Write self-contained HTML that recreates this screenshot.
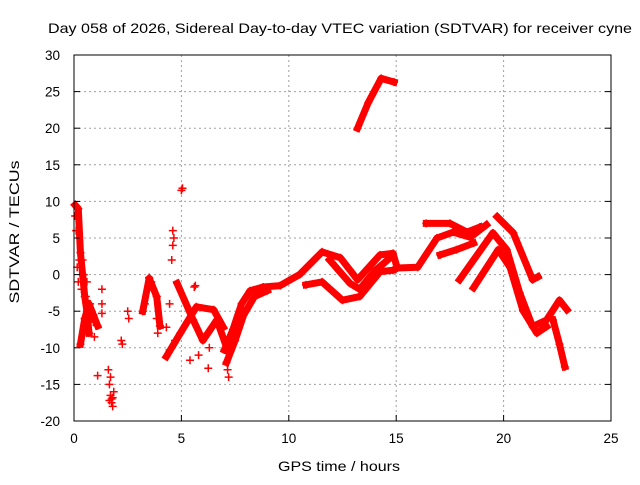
<!DOCTYPE html>
<html><head><meta charset="utf-8"><style>
body{margin:0;background:#fff;}
svg text{font-family:"Liberation Sans",sans-serif;fill:#000;}
</style></head><body>
<svg id="chart" width="640" height="480" viewBox="0 0 640 480" xmlns="http://www.w3.org/2000/svg">
<rect width="640" height="480" fill="#fff"/>
<text x="340" y="33" font-size="14" text-anchor="middle" textLength="584" lengthAdjust="spacingAndGlyphs">Day 058 of 2026, Sidereal Day-to-day VTEC variation (SDTVAR) for receiver cyne</text>
<text x="339" y="471" font-size="14" text-anchor="middle" textLength="122" lengthAdjust="spacingAndGlyphs">GPS time / hours</text>
<text transform="translate(19,232) rotate(-90)" font-size="14" text-anchor="middle" textLength="143" lengthAdjust="spacingAndGlyphs">SDTVAR / TECUs</text>
<g id="grid"></g><g id="marks"></g><g id="axes"></g>
</svg>
<script>
const xTicks=[0,5,10,15,20,25];
const yTicks=[-20,-15,-10,-5,0,5,10,15,20,25,30];
// continuous tracks: time (hours) and value (TECU)
const trackT=[
[7.0,7.4,7.8,8.2,8.8,9.6,10.5,11.55,12.4,13.2,14.25,14.85,15.05,16.0,16.9,17.65,18.45,19.2],
[7.1,7.5,7.9,8.4,9.0],
[10.8,11.55,12.5,13.3,14.25,14.85],
[11.9,12.85,13.3,14.0,14.8],
[16.4,17.5,18.3,18.9],
[17.05,17.8,18.6],
[17.95,19.5,20.15,20.75,21.35,22.0,22.6,22.95],
[18.6,19.75,20.3,20.9,21.55,22.0],
[19.7,20.45,21.35,21.6],
[22.3,22.6,22.85],
[13.2,13.7,14.3,14.9],
[4.8,5.55,6.0,6.65,7.1],
[4.3,4.95,5.7,6.5,6.95],
[0.05,0.2,0.3,0.4,0.5,0.6,0.7],
[0.3,0.5,0.7,0.9,1.1],
[3.2,3.5,3.85,4.0]
];
const trackV=[
[-10.3,-7.5,-4.0,-2.2,-1.7,-1.5,0.0,3.1,2.3,-0.7,2.7,2.9,0.9,1.0,5.0,5.8,5.1,6.8],
[-12.0,-9.0,-5.5,-3.0,-2.2],
[-1.4,-1.0,-3.5,-3.0,0.4,0.6],
[2.0,-1.2,-2.0,0.5,2.5],
[7.0,7.0,5.8,6.5],
[2.7,3.4,4.3],
[-0.7,5.7,3.4,-2.5,-7.1,-6.2,-3.5,-4.8],
[-1.8,3.4,1.0,-4.9,-8.0,-7.1],
[7.9,5.7,-0.7,-0.3],
[-6.2,-9.5,-12.6],
[20.0,23.5,26.8,26.3],
[-1.2,-6.2,-9.0,-6.2,-9.9],
[-11.2,-8.0,-4.4,-4.8,-7.2],
[9.5,9.0,3.0,0.0,-3.0,-5.0,-8.0],
[-9.5,-6.0,-4.0,-5.5,-7.0],
[-5.0,-0.5,-3.0,-7.0]
];
// scattered points
const ptT=[0.05,0.1,0.15,0.25,0.35,0.45,0.55,0.6,0.75,0.8,0.9,0.95,1.1,1.3,1.3,1.3,1.6,1.65,1.7,1.75,1.8,1.85,1.7,2.2,2.25,2.5,2.55,3.2,3.3,3.5,3.6,3.85,3.85,3.9,4.0,4.6,4.6,4.55,4.65,5.0,5.05,4.45,4.3,4.45,5.6,5.65,5.4,6.25,7.2,7.15,0.4,0.6,0.2,0.5,1.75,1.8,1.65,4.7,6.3,5.8];
const ptV=[8,6,1,2,-2,0,-3,-5,-4,-6,-6.5,-8.5,-13.8,-2,-4,-5.3,-13,-15,-16.5,-17.5,-18,-16,-14,-9,-9.5,-5,-6,-5,-4,-0.4,-1,-3,-6,-8,-7,6,4,2,5,11.5,11.8,-4,-7.2,-10.3,-1.7,-1.5,-11.7,-12.8,-14,-13,2,-1,-1,-6,-17,-16.8,-17.2,-9,-10,-11];
const X=t=>74+t*(537/25);
const Y=v=>274.6-v*7.32;
const NS='http://www.w3.org/2000/svg';
const grid=document.getElementById('grid'),axes=document.getElementById('axes'),marks=document.getElementById('marks');
function mk(tag,attrs,parent){const e=document.createElementNS(NS,tag);for(const k in attrs)e.setAttribute(k,attrs[k]);parent.appendChild(e);return e;}
xTicks.forEach(t=>{
 if(t>0&&t<25){const g=mk('line',{x1:X(t),x2:X(t),y1:55,y2:421,stroke:'#a0a0a0','stroke-dasharray':'2,3'},grid);
 
 }
 const tk=mk('line',{x1:X(t),x2:X(t),y1:421,y2:415,stroke:'#000'},axes);
 
 
 const tx=mk('text',{x:X(t),y:443,'font-size':13.5,'text-anchor':'middle'},axes);tx.textContent=t;
 
 
});
yTicks.forEach(v=>{
 if(v>-20&&v<30){const g=mk('line',{x1:74,x2:611,y1:Y(v),y2:Y(v),stroke:'#a0a0a0','stroke-dasharray':'2,3'},grid);
 
 }
 const tk=mk('line',{x1:74,x2:80,y1:Y(v),y2:Y(v),stroke:'#000'},axes);
 
 
 const tk2=mk('line',{x1:605,x2:611,y1:Y(v),y2:Y(v),stroke:'#000'},axes);
 
 
 const tx=mk('text',{x:60,y:Y(v)+5,'font-size':13.5,'text-anchor':'end'},axes);tx.textContent=v;
 
 
});
const frame=mk('rect',{x:74,y:55,width:537,height:366,fill:'none',stroke:'#000'},axes);


function plus(x,y){const p=mk('path',{d:`M${x-4} ${y}h8M${x} ${y-4}v8`,stroke:'#f00','stroke-width':1.5},marks);
 
 }
trackT.forEach((ts,i)=>{
 const vs=trackV[i];
 const pts=ts.map((t,j)=>X(t)+','+Y(vs[j])).join(' ');
 const pl=mk('polyline',{points:pts,fill:'none',stroke:'#f00','stroke-width':7,'stroke-linejoin':'round','stroke-linecap':'square'},marks);
 
 
 ts.forEach((t,j)=>plus(X(t),Y(vs[j])));
});
ptT.forEach((t,i)=>plus(X(t),Y(ptV[i])));
</script>
</body></html>
